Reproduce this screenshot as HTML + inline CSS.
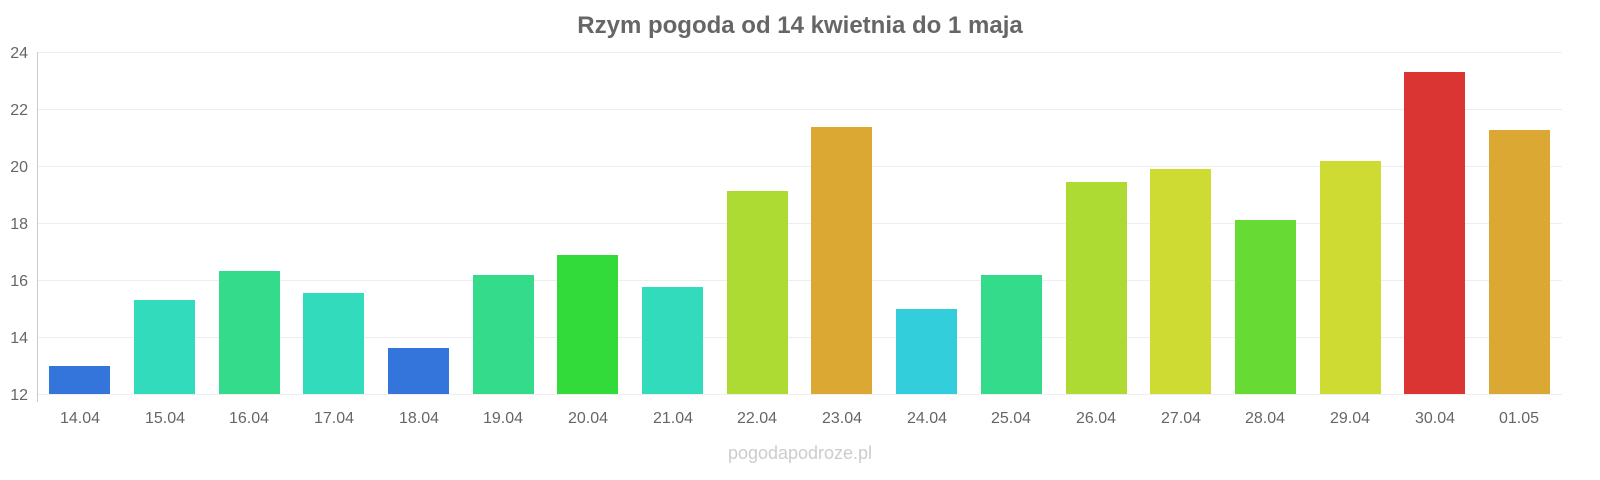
<!DOCTYPE html>
<html><head><meta charset="utf-8"><style>
html,body{margin:0;padding:0;background:#fff;}
svg{display:block;font-family:"Liberation Sans",Arial,sans-serif;}
</style></head><body>
<svg width="1600" height="480" viewBox="0 0 1600 480" xmlns="http://www.w3.org/2000/svg">
<text x="800" y="33" text-anchor="middle" font-size="24" font-weight="bold" fill="#666">Rzym pogoda od 14 kwietnia do 1 maja</text>
<g stroke="#eee" stroke-width="1">
<line x1="38" y1="52.5" x2="1562" y2="52.5"/>
<line x1="38" y1="109.5" x2="1562" y2="109.5"/>
<line x1="38" y1="166.5" x2="1562" y2="166.5"/>
<line x1="38" y1="223.5" x2="1562" y2="223.5"/>
<line x1="38" y1="280.5" x2="1562" y2="280.5"/>
<line x1="38" y1="337.5" x2="1562" y2="337.5"/>
<line x1="38" y1="394.5" x2="1562" y2="394.5"/>
</g>
<line x1="37.5" y1="52" x2="37.5" y2="402" stroke="#ccc"/>
<g font-size="16" fill="#666" text-anchor="end">
<text x="28" y="58">24</text><text x="28" y="115">22</text><text x="28" y="172">20</text>
<text x="28" y="229">18</text><text x="28" y="286">16</text><text x="28" y="343">14</text><text x="28" y="400">12</text>
</g>
<g>
<rect x="49" y="366" width="61" height="28" fill="#3375db"/>
<rect x="134" y="300" width="61" height="94" fill="#33dbbd"/>
<rect x="219" y="271" width="61" height="123" fill="#33db8a"/>
<rect x="303" y="293" width="61" height="101" fill="#33dbbd"/>
<rect x="388" y="348" width="61" height="46" fill="#3375db"/>
<rect x="473" y="275" width="61" height="119" fill="#33db8a"/>
<rect x="557" y="255" width="61" height="139" fill="#33db3a"/>
<rect x="642" y="287" width="61" height="107" fill="#33dbbd"/>
<rect x="727" y="191" width="61" height="203" fill="#addb33"/>
<rect x="811" y="127" width="61" height="267" fill="#dba833"/>
<rect x="896" y="309" width="61" height="85" fill="#33cedb"/>
<rect x="981" y="275" width="61" height="119" fill="#33db8a"/>
<rect x="1066" y="182" width="61" height="212" fill="#addb33"/>
<rect x="1150" y="169" width="61" height="225" fill="#cedb33"/>
<rect x="1235" y="220" width="61" height="174" fill="#67db33"/>
<rect x="1320" y="161" width="61" height="233" fill="#cedb33"/>
<rect x="1404" y="72" width="61" height="322" fill="#db3533"/>
<rect x="1489" y="130" width="61" height="264" fill="#dba833"/>
</g>
<g font-size="16" fill="#666" text-anchor="middle">
<text x="80" y="423">14.04</text><text x="165" y="423">15.04</text><text x="249" y="423">16.04</text>
<text x="334" y="423">17.04</text><text x="419" y="423">18.04</text><text x="503" y="423">19.04</text>
<text x="588" y="423">20.04</text><text x="673" y="423">21.04</text><text x="757" y="423">22.04</text>
<text x="842" y="423">23.04</text><text x="927" y="423">24.04</text><text x="1011" y="423">25.04</text>
<text x="1096" y="423">26.04</text><text x="1181" y="423">27.04</text><text x="1265" y="423">28.04</text>
<text x="1350" y="423">29.04</text><text x="1435" y="423">30.04</text><text x="1519" y="423">01.05</text>
</g>
<text x="800" y="459" text-anchor="middle" font-size="18" fill="#ccc">pogodapodroze.pl</text>
</svg>
</body></html>
